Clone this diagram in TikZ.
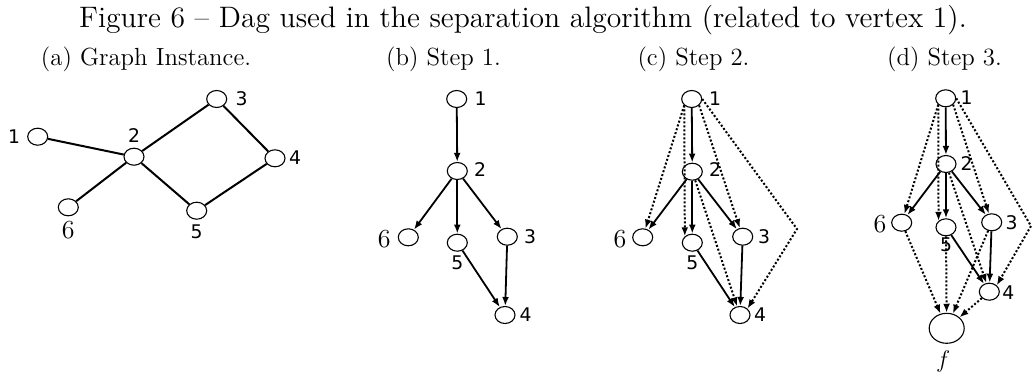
\documentclass[tikz,border=0pt]{standalone}
\usepackage{fontspec}
\newfontfamily\dvs{DejaVu Sans}
\usetikzlibrary{shapes.geometric,arrows.meta}
\begin{document}
\begin{tikzpicture}[x=0.5pt,y=-0.5pt,
 vtx/.style={draw,ellipse,line width=0.55pt,minimum width=10pt,minimum height=8.5pt,inner sep=0pt},
 bigvtx/.style={vtx,minimum width=17.5pt,minimum height=15pt},
 lab/.style={font=\dvs\fontsize{9.4}{9.4}\selectfont,inner sep=0pt},
 slab/.style={font=\fontsize{13}{13}\selectfont,inner sep=0pt},
 titletxt/.style={font=\fontsize{14.8}{16}\selectfont,inner sep=0pt,anchor=base},
 captxt/.style={font=\fontsize{12.4}{14}\selectfont,inner sep=0pt,anchor=base},
 und/.style={line width=1pt},
 arr/.style={line width=0.9pt,-{Latex[length=4.5pt,width=3.4pt]}},
 dotarr/.style={line width=1pt,dash pattern=on 1pt off 1pt,-{Latex[length=4.5pt,width=3.4pt]}}
]
\useasboundingbox (0,0) rectangle (1035,376);
% captions
\node[titletxt] (title) at (523,27) {Figure 6 -- Dag used in the separation algorithm (related to vertex 1).};
\node[captxt] (capa) at (146,65) {(a) Graph Instance.};
\node[captxt] (capb) at (443.5,65) {(b) Step 1.};
\node[captxt] (capc) at (693.5,65) {(c) Step 2.};
\node[captxt] (capd) at (944.5,65) {(d) Step 3.};
% (a)
\node[vtx] (a1) at (37.7,136.7) {};
\node[vtx] (a2) at (134,156.7) {};
\node[vtx] (a3) at (216.7,99) {};
\node[vtx] (a4) at (275,158.3) {};
\node[vtx] (a5) at (196.7,210.7) {};
\node[vtx] (a6) at (68.3,207.3) {};
\node[lab] (la1) at (14,137) {1};
\node[lab] (la2) at (134,136) {2};
\node[lab] (la3) at (241.7,99) {3};
\node[lab] (la4) at (295,158) {4};
\node[lab] (la5) at (196.7,231.7) {5};
\node[slab] (la6) at (68.3,230) {6};
\draw[und] (a1) -- (a2);
\draw[und] (a2) -- (a3);
\draw[und] (a3) -- (a4);
\draw[und] (a2) -- (a5);
\draw[und] (a5) -- (a4);
\draw[und] (a2) -- (a6);
% (b)
\node[vtx] (b1) at (456.7,99) {};
\node[vtx] (b2) at (457.3,171) {};
\node[vtx] (b6) at (408.3,237.3) {};
\node[vtx] (b5) at (457.3,242.7) {};
\node[vtx] (b3) at (507.3,236.7) {};
\node[vtx] (b4) at (505,315) {};
\node[lab] (lb1) at (480.7,99) {1};
\node[lab] (lb2) at (480,170) {2};
\node[slab] (lb6) at (384.3,239) {6};
\node[lab] (lb5) at (457.3,262.3) {5};
\node[lab] (lb3) at (530,236.7) {3};
\node[lab] (lb4) at (525.7,315) {4};
\draw[arr] (b1) -- (b2);
\draw[arr] (b2) -- (b6);
\draw[arr] (b2) -- (b5);
\draw[arr] (b2) -- (b3);
\draw[arr] (b5) -- (b4);
\draw[arr] (b3) -- (b4);
% (c)
\node[vtx] (c1) at (691.7,99) {};
\node[vtx] (c2) at (692.3,171.7) {};
\node[vtx] (c6) at (642.7,237.3) {};
\node[vtx] (c5) at (692.3,242.7) {};
\node[vtx] (c3) at (742.7,236.7) {};
\node[vtx] (c4) at (740,315) {};
\coordinate (cbend) at (797,229);
\node[lab] (lc1) at (715,99) {1};
\node[lab] (lc2) at (715,170) {2};
\node[slab] (lc6) at (620,239) {6};
\node[lab] (lc5) at (692.3,262.3) {5};
\node[lab] (lc3) at (764,236.7) {3};
\node[lab] (lc4) at (760,315) {4};
\draw[arr] (c1) -- (c2);
\draw[arr] (c2) -- (c6);
\draw[arr] (c2) -- (c5);
\draw[arr] (c2) -- (c3);
\draw[arr] (c5) -- (c4);
\draw[arr] (c3) -- (c4);
\draw[dotarr] (c1.south west) -- (c6);
\draw[dotarr] (c1.south west) -- (c5.north west);
\draw[dotarr] (c1.south east) -- (c3);
\draw[dotarr] (c2) -- (c4);
\draw[dotarr] (c1.east) -- (cbend) -- (c4.north east);
% (d)
\node[vtx] (d1) at (945.7,98.3) {};
\node[vtx] (d2) at (946,164) {};
\node[vtx] (d6) at (901.7,222.7) {};
\node[vtx] (d5) at (946,227.3) {};
\node[vtx] (d3) at (991.7,222.3) {};
\node[vtx] (d4) at (989.3,291.7) {};
\node[bigvtx] (df) at (946.7,328.3) {};
\coordinate (dbend) at (1031,226);
\node[lab] (ld1) at (966.7,98) {1};
\node[lab] (ld2) at (966.7,163.3) {2};
\node[slab] (ld6) at (880,224) {6};
\node[lab] (ld5) at (946,245) {5};
\node[lab] (ld3) at (1011.7,222.3) {3};
\node[lab] (ld4) at (1008.3,292.3) {4};
\node[slab] (ldf) at (943.3,361.7) {$f$};
\draw[arr] (d1) -- (d2);
\draw[arr] (d2) -- (d6);
\draw[arr] (d2) -- (d5);
\draw[arr] (d2) -- (d3);
\draw[arr] (d5) -- (d4);
\draw[arr] (d3) -- (d4);
\draw[dotarr] (d1.south west) -- (d6);
\draw[dotarr] (d1.south west) -- (d5.north west);
\draw[dotarr] (d1.south east) -- (d3);
\draw[dotarr] (d2) -- (d4);
\draw[dotarr] (d1.east) -- (dbend) -- (d4.north east);
\draw[dotarr] (d6) -- (df);
\draw[dotarr] (d5) -- (df);
\draw[dotarr] (d3) -- (df);
\draw[dotarr] (d4) -- (df);
\end{tikzpicture}
\end{document}
